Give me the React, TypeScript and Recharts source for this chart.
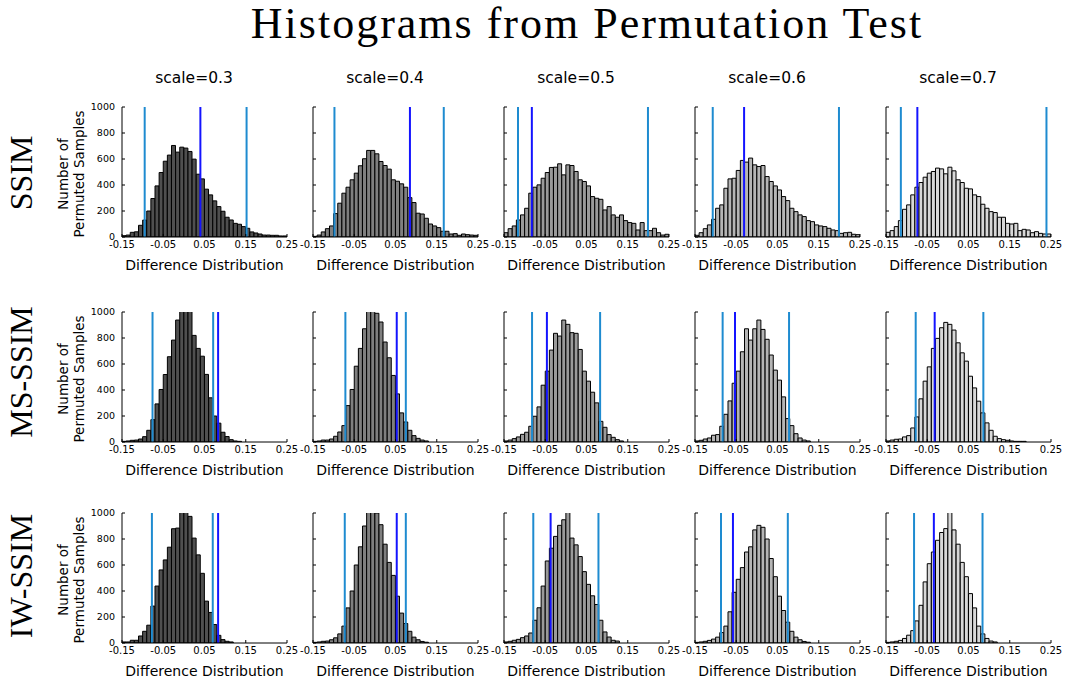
import { BarChart, Bar, XAxis, YAxis, ReferenceLine, Label } from 'recharts'

const scales = ['0.3', '0.4', '0.5', '0.6', '0.7']
const metrics = ['SSIM', 'MS-SSIM', 'IW-SSIM']

// centre of each 0.01 wide bin
const binCenters = [
  -0.145, -0.135, -0.125, -0.115, -0.105, -0.095, -0.085, -0.075, -0.065, -0.055,
  -0.045, -0.035, -0.025, -0.015, -0.005, 0.005, 0.015, 0.025, 0.035, 0.045,
  0.055, 0.065, 0.075, 0.085, 0.095, 0.105, 0.115, 0.125, 0.135, 0.145,
  0.155, 0.165, 0.175, 0.185, 0.195, 0.205, 0.215, 0.225, 0.235, 0.245,
]
const xTicks = [-0.15, -0.05, 0.05, 0.15, 0.25]
const yTicks = [0, 200, 400, 600, 800, 1000]

// SSIM
const ssim03 = [10, 15, 36, 40, 90, 130, 200, 296, 393, 496, 583, 630, 704, 653, 691, 684, 658, 599, 483, 447, 368, 324, 278, 234, 198, 152, 131, 105, 98, 80, 67, 39, 31, 23, 15, 15, 13, 13, 8, 8]
const ssim04 = [5, 15, 39, 64, 85, 180, 260, 337, 383, 440, 491, 548, 602, 666, 666, 640, 581, 550, 522, 440, 429, 409, 383, 303, 265, 183, 177, 144, 100, 85, 72, 44, 44, 23, 26, 13, 23, 18, 15, 13]
const ssim05 = [33, 64, 85, 131, 170, 221, 337, 383, 401, 452, 496, 535, 537, 563, 478, 555, 550, 504, 440, 427, 393, 311, 298, 290, 208, 234, 170, 152, 170, 126, 111, 105, 54, 111, 49, 49, 67, 33, 15, 21]
const ssim06 = [13, 33, 64, 93, 136, 221, 247, 375, 447, 452, 512, 589, 576, 607, 555, 542, 550, 465, 427, 393, 362, 311, 280, 221, 195, 170, 157, 126, 118, 93, 85, 80, 67, 54, 49, 28, 33, 36, 21, 18]
const ssim07 = [36, 49, 80, 126, 213, 247, 324, 383, 419, 460, 491, 504, 530, 524, 486, 537, 509, 440, 419, 375, 370, 324, 311, 252, 221, 195, 188, 152, 152, 105, 100, 105, 49, 59, 54, 33, 41, 28, 23, 23]

// MS-SSIM
const msssim03 = [5, 8, 13, 15, 23, 41, 90, 172, 293, 404, 519, 656, 784, 938, 1030, 1040, 1020, 820, 720, 660, 520, 340, 200, 145, 75, 42, 18, 8, 5, 0, 0, 0, 0, 0, 0, 0, 0, 0, 0, 0]
const msssim04 = [5, 8, 15, 15, 23, 44, 77, 126, 280, 404, 583, 720, 871, 1020, 1010, 990, 923, 769, 648, 512, 370, 224, 154, 90, 49, 28, 15, 8, 0, 0, 0, 0, 0, 0, 0, 0, 0, 0, 0, 0]
const msssim05 = [8, 15, 26, 39, 59, 75, 121, 198, 270, 437, 545, 707, 836, 815, 938, 905, 841, 836, 712, 545, 468, 383, 301, 159, 113, 57, 36, 18, 8, 0, 0, 0, 0, 0, 0, 0, 0, 0, 0, 0]
const msssim06 = [8, 13, 23, 31, 52, 57, 121, 213, 316, 452, 545, 694, 871, 784, 871, 938, 866, 790, 669, 553, 476, 347, 180, 126, 64, 31, 15, 8, 0, 0, 0, 0, 0, 0, 0, 0, 0, 0, 0, 0]
const msssim07 = [8, 15, 21, 23, 39, 49, 108, 193, 332, 468, 578, 720, 797, 879, 920, 905, 861, 763, 686, 622, 506, 416, 314, 224, 147, 90, 44, 26, 18, 13, 8, 5, 5, 5, 0, 0, 0, 0, 0, 0]

// IW-SSIM
const iwssim03 = [8, 8, 21, 21, 54, 90, 137, 284, 438, 562, 639, 737, 879, 884, 1030, 1020, 974, 807, 678, 536, 322, 235, 142, 59, 26, 13, 8, 0, 0, 0, 0, 0, 0, 0, 0, 0, 0, 0, 0, 0]
const iwssim04 = [5, 8, 13, 15, 25, 40, 70, 130, 270, 400, 600, 740, 900, 1020, 1030, 1000, 910, 760, 620, 520, 360, 230, 150, 90, 45, 25, 12, 6, 0, 0, 0, 0, 0, 0, 0, 0, 0, 0, 0, 0]
const iwssim05 = [8, 13, 21, 28, 41, 54, 77, 175, 271, 438, 631, 729, 820, 905, 948, 1030, 807, 755, 665, 549, 451, 363, 296, 175, 85, 46, 21, 15, 0, 0, 0, 0, 0, 0, 0, 0, 0, 0, 0, 0]
const iwssim06 = [5, 8, 13, 20, 30, 45, 80, 130, 240, 390, 490, 580, 700, 740, 870, 905, 890, 800, 650, 510, 360, 250, 160, 90, 45, 25, 12, 6, 0, 0, 0, 0, 0, 0, 0, 0, 0, 0, 0, 0]
const iwssim07 = [5, 8, 13, 20, 35, 60, 95, 170, 290, 470, 610, 700, 790, 850, 880, 1020, 870, 760, 620, 510, 380, 270, 130, 70, 35, 15, 8, 0, 0, 0, 0, 0, 0, 0, 0, 0, 0, 0, 0, 0]

// critical values (light blue) and observed difference (dark blue)
const ssimLower = [-0.095, -0.098, -0.116, -0.107, -0.114]
const ssimUpper = [0.152, 0.167, 0.199, 0.199, 0.239]
const ssimObserved = [0.04, 0.085, -0.0825, -0.031, -0.074]
const msssimLower = [-0.076, -0.0715, -0.082, -0.083, -0.078]
const msssimUpper = [0.071, 0.075, 0.083, 0.078, 0.086]
const msssimObserved = [0.083, 0.053, -0.046, -0.053, -0.032]
const iwssimLower = [-0.0775, -0.073, -0.079, -0.087, -0.082]
const iwssimUpper = [0.07, 0.075, 0.079, 0.075, 0.084]
const iwssimObserved = [0.083, 0.053, -0.037, -0.058, -0.034]

const counts = [
  [ssim03, ssim04, ssim05, ssim06, ssim07],
  [msssim03, msssim04, msssim05, msssim06, msssim07],
  [iwssim03, iwssim04, iwssim05, iwssim06, iwssim07],
]
const lower = [ssimLower, msssimLower, iwssimLower]
const upper = [ssimUpper, msssimUpper, iwssimUpper]
const observed = [ssimObserved, msssimObserved, iwssimObserved]

const fills = ['#4f4f4f', '#7f7f7f', '#9a9a9a', '#b5b5b5', '#d8d8d8']
const plotLefts = [122, 313, 504, 695, 886]
const plotTops = [107, 312, 513]
const rowLabelY = [173, 372, 576]
const critColor = '#1e8bd0'
const obsColor = '#1414ff'

const Y_AXIS_W = 70

function YLabel(props: any) {
  const vb = props.viewBox || {}
  const right = (vb.x ?? 0) + (vb.width ?? 0)
  const cy = (vb.y ?? 0) + (vb.height ?? 0) / 2 + 2
  const x1 = right - 54
  const x2 = right - 38
  return (
    <g>
      <text x={x1} y={cy} transform={`rotate(-90 ${x1} ${cy})`} textAnchor="middle" fontSize={13.5} fill="#000">
        Number of
      </text>
      <text x={x2} y={cy} transform={`rotate(-90 ${x2} ${cy})`} textAnchor="middle" fontSize={13.5} fill="#000">
        Permuted Samples
      </text>
    </g>
  )
}

function Panel({ row, col }: { row: number; col: number }) {
  const values = counts[row][col]
  const data = binCenters.map((b, i) => ({ mid: b, count: values[i] }))
  return (
    <div style={{ position: 'absolute', left: plotLefts[col] - Y_AXIS_W, top: plotTops[row] - 10 }}>
      <BarChart
        width={249}
        height={175}
        data={data}
        margin={{ top: 10, right: 14, left: 0, bottom: 2 }}
        barCategoryGap={0}
        barGap={0}
      >
        <XAxis
          dataKey="mid"
          type="number"
          domain={[-0.15, 0.25]}
          ticks={xTicks}
          interval={0}
          allowDataOverflow
          height={33}
          tick={{ fontSize: 10, fill: '#000' }}
          tickSize={-3}
          tickMargin={7}
          axisLine={{ stroke: '#000' }}
          tickLine={{ stroke: '#000' }}
        >
          <Label value="Difference Distribution" position="insideBottom" offset={0} fontSize={14} fill="#000" />
        </XAxis>
        <YAxis
          domain={[0, 1000]}
          ticks={yTicks}
          allowDataOverflow
          width={Y_AXIS_W}
          tick={{ fontSize: 9.5, fill: '#000' }}
          tickFormatter={col === 0 ? undefined : () => ''}
          tickSize={-3}
          tickMargin={10}
          axisLine={{ stroke: '#000' }}
          tickLine={{ stroke: '#000' }}
        >
          {col === 0 && <Label content={<YLabel />} />}
        </YAxis>
        <Bar dataKey="count" fill={fills[col]} stroke="#000" strokeWidth={1} isAnimationActive={false} />
        <ReferenceLine x={lower[row][col]} stroke={critColor} strokeWidth={2} />
        <ReferenceLine x={upper[row][col]} stroke={critColor} strokeWidth={2} />
        <ReferenceLine x={observed[row][col]} stroke={obsColor} strokeWidth={2} />
      </BarChart>
    </div>
  )
}

export default function App() {
  return (
    <div
      style={{
        position: 'absolute',
        left: 0,
        top: 0,
        width: 1068,
        height: 681,
        background: '#fff',
        fontFamily: 'DejaVu Sans',
      }}
    >
      <svg width={1068} height={681} style={{ position: 'absolute', left: 0, top: 0 }}>
        <text
          x={587}
          y={38}
          textAnchor="middle"
          fontFamily="Liberation Serif"
          fontSize={44}
          letterSpacing={2}
          fill="#000"
        >
          Histograms from Permutation Test
        </text>
        {scales.map((s, c) => (
          <text key={s} x={plotLefts[c] + 72} y={83} textAnchor="middle" fontSize={15.5} fill="#000">
            {`scale=${s}`}
          </text>
        ))}
        {metrics.map((m, r) => (
          <text
            key={m}
            x={32}
            y={rowLabelY[r]}
            transform={`rotate(-90 32 ${rowLabelY[r]})`}
            textAnchor="middle"
            fontFamily="Liberation Serif"
            fontSize={32}
            fill="#000"
          >
            {m}
          </text>
        ))}
      </svg>
      {metrics.map((m, r) => scales.map((s, c) => <Panel key={`${m}-${s}`} row={r} col={c} />))}
    </div>
  )
}
